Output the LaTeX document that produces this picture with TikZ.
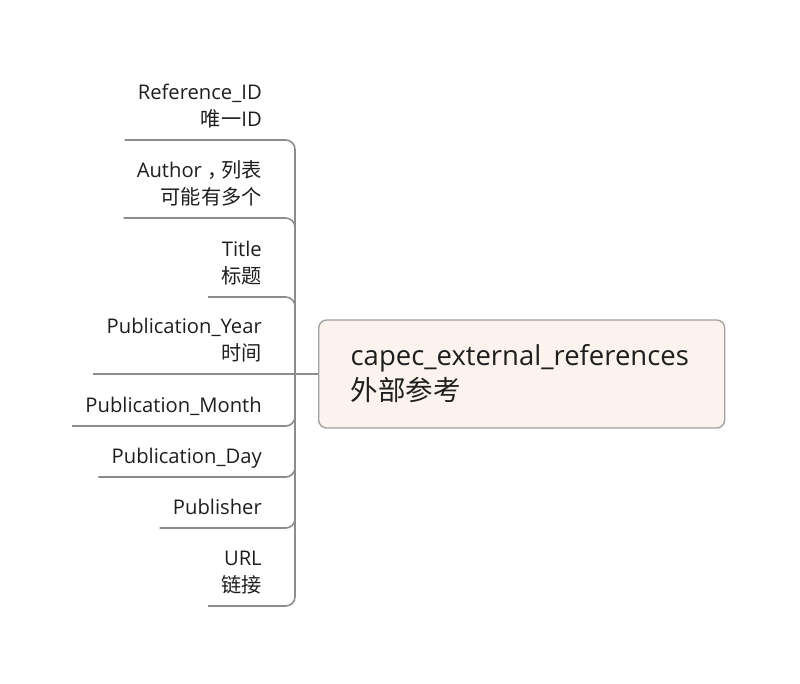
\documentclass[tikz,border=0pt]{standalone}
\usepackage{fontspec}
\setmainfont{Open Sans}
\newfontfamily\cjk{Noto Sans CJK SC}
\usetikzlibrary{positioning}
\definecolor{rootfill}{RGB}{252,243,238}
\definecolor{rootline}{RGB}{160,160,160}
\definecolor{branchline}{RGB}{140,140,140}
\definecolor{labeltext}{RGB}{30,30,30}
\newcommand{\capecleaf}[3]{%
  \node[leaf] (#1) at (275,#2) {#3};%
  \draw[branch] (hub) |- (#1.south west);%
}

\begin{document}
\begin{tikzpicture}[x=0.75pt,y=-0.75pt,
  leaf/.style={anchor=south east,align=right,inner xsep=9.75pt,inner ysep=4pt,
    font=\fontsize{15.15}{20.25}\selectfont,text=labeltext,execute at end node=\strut},
  rootbox/.style={anchor=west,align=left,draw=rootline,fill=rootfill,line width=1pt,
    rounded corners=6pt,inner xsep=24pt,minimum height=81pt,text width=256.5pt,
    font=\fontsize{20.6}{26.25}\selectfont,text=labeltext},
  branch/.style={draw=branchline,line width=1.2pt,rounded corners=7pt}]
  \useasboundingbox (0,0) rectangle (800,683);
  \node[rootbox] (root) at (318,374) {capec\_external\_references\\{\cjk 外部参考}};
  \coordinate (hub) at (295,374);
  \draw[branch] (root.west) -- (hub);
  \capecleaf{refid}{140}{Reference\_ID\\{\cjk 唯一}ID}
  \capecleaf{author}{218}{Author {\cjk ，}\kern-0.3em{\cjk 列表}\\{\cjk 可能有多个}}
  \capecleaf{title}{297}{Title\\{\cjk 标题}}
  % year sits on the hub line
  \node[leaf] (year) at (275,374) {Publication\_Year\\{\cjk 时间}};
  \draw[branch] (hub) -- (year.south west);
  \capecleaf{month}{426}{Publication\_Month}
  \capecleaf{day}{477}{Publication\_Day}
  \capecleaf{publisher}{528}{Publisher}
  \capecleaf{url}{606}{URL\\{\cjk 链接}}
\end{tikzpicture}
\end{document}
